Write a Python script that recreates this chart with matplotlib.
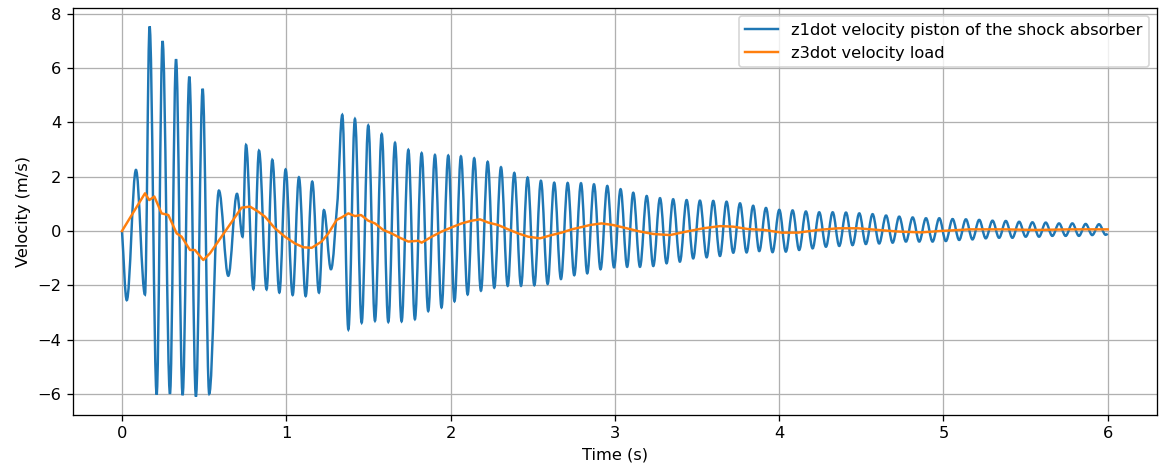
import matplotlib
matplotlib.use("Agg")
import matplotlib.pyplot as plt
from matplotlib.path import Path
from matplotlib.patches import PathPatch
from matplotlib.lines import Line2D
import numpy as np

# z1dot: extrema (time s, velocity m/s)
z1_t = [0.000, 0.029, 0.085, 0.140, 0.168, 0.211, 0.247, 0.292, 0.329, 0.369,
        0.410, 0.450, 0.491, 0.531, 0.590, 0.647, 0.700, 0.734, 0.755, 0.800,
        0.834, 0.880, 0.915, 0.958, 0.996, 1.039, 1.077, 1.118, 1.158, 1.199,
        1.229, 1.272, 1.313,
        1.341, 1.378, 1.418, 1.459, 1.499, 1.540, 1.581, 1.621, 1.662, 1.702,
        1.743, 1.783, 1.824, 1.864, 1.905, 1.945, 1.986, 2.024, 2.063, 2.104,
        2.144, 2.185, 2.226, 2.266, 2.307, 2.348, 2.388, 2.429, 2.469, 2.510,
        2.550, 2.591, 2.631, 2.672, 2.713, 2.753, 2.794, 2.832, 2.873, 2.913,
        2.954, 2.995, 3.035, 3.075, 3.112, 3.153, 3.194, 3.234, 3.275, 3.315,
        3.355, 3.396, 3.437, 3.477, 3.518, 3.559, 3.599, 3.640, 3.680, 3.721,
        3.762, 3.802, 3.842, 3.879, 3.920, 3.960, 4.001, 4.041, 4.082, 4.122,
        4.163, 4.204, 4.244, 4.285, 4.326, 4.366, 4.407, 4.447, 4.488, 4.528,
        4.569, 4.609, 4.651, 4.691, 4.731, 4.772, 4.813, 4.853, 4.894, 4.934,
        4.975, 5.015, 5.056, 5.096, 5.137, 5.177, 5.218, 5.258, 5.299, 5.339,
        5.380, 5.420, 5.461, 5.501, 5.542, 5.582, 5.623, 5.663, 5.704, 5.744,
        5.785, 5.825, 5.866, 5.906, 5.947, 5.988, 6.000]
z1_v = [0.00, -2.55, 2.25, -2.34, 7.54, -6.03, 7.00, -6.00, 6.33, -6.05,
        5.69, -6.10, 5.24, -6.00, 1.49, -1.65, 1.37, -0.21, 3.17, -2.14,
        2.96, -2.15, 2.62, -2.27, 2.27, -2.36, 1.98, -2.40, 1.82, -2.27,
        0.77, -1.41, 1.20,
        4.28, -3.63, 4.13, -3.38, 3.89, -3.31, 3.57, -3.35, 3.25, -3.33,
        2.99, -3.25, 2.87, -2.95, 2.80, -2.82, 2.78, -2.59, 2.75, -2.34,
        2.68, -2.20, 2.55, -2.09, 2.35, -2.02, 2.14, -2.02, 1.97, -2.00,
        1.85, -1.95, 1.78, -1.77, 1.77, -1.63, 1.76, -1.56, 1.72, -1.41,
        1.66, -1.34, 1.54, -1.32, 1.41, -1.32, 1.29, -1.29, 1.21, -1.19,
        1.17, -1.13, 1.14, -1.01, 1.12, -0.97, 1.11, -0.92, 1.08, -0.80,
        1.02, -0.79, 0.93, -0.74, 0.85, -0.78, 0.78, -0.76, 0.76, -0.70,
        0.72, -0.64, 0.69, -0.58, 0.69, -0.55, 0.68, -0.52, 0.65, -0.48,
        0.62, -0.46, 0.57, -0.43, 0.53, -0.39, 0.50, -0.39, 0.47, -0.39,
        0.47, -0.37, 0.44, -0.33, 0.43, -0.31, 0.41, -0.27, 0.38, -0.25,
        0.37, -0.25, 0.34, -0.21, 0.32, -0.21, 0.31, -0.18, 0.28, -0.18,
        0.28, -0.18, 0.26, -0.15, 0.25, -0.14, -0.10]

# z3dot: points along the load velocity curve
z3_t = [0.000, 0.140, 0.166, 0.197, 0.241, 0.282, 0.333, 0.363, 0.414, 0.444,
        0.495, 0.536, 0.728, 0.779, 0.830, 0.870, 0.931, 0.992, 1.053, 1.104,
        1.155, 1.215, 1.256, 1.307, 1.337, 1.378, 1.418, 1.455, 1.499, 1.540,
        1.590, 1.641, 1.692, 1.743, 1.803, 1.824, 1.885, 1.946, 2.017, 2.068,
        2.128, 2.179, 2.230, 2.290, 2.351, 2.412, 2.473, 2.544, 2.615, 2.676,
        2.737, 2.808, 2.848, 2.919, 2.990, 3.072, 3.153, 3.234, 3.335, 3.437,
        3.538, 3.640, 3.721, 3.812, 3.910, 4.015, 4.116, 4.238, 4.360, 4.480,
        4.600, 4.725, 4.867, 4.980, 5.160, 5.364, 5.567, 5.770, 6.000]
z3_v = [0.00, 1.39, 1.14, 1.27, 0.65, 0.59, -0.09, -0.21, -0.70, -0.70,
        -1.07, -0.82, 0.86, 0.90, 0.71, 0.53, 0.10, -0.21, -0.46, -0.60,
        -0.62, -0.39, -0.09, 0.41, 0.50, 0.65, 0.55, 0.59, 0.38, 0.28,
        0.04, -0.09, -0.25, -0.39, -0.36, -0.43, -0.21, -0.02, 0.16, 0.28,
        0.38, 0.43, 0.31, 0.22, 0.06, -0.09, -0.21, -0.27, -0.15, -0.06,
        0.06, 0.16, 0.22, 0.28, 0.22, 0.10, -0.02, -0.11, -0.15, -0.02,
        0.10, 0.18, 0.16, 0.07, 0.04, -0.06, -0.06, 0.04, 0.10, 0.10,
        0.04, -0.02, -0.05, 0.00, 0.06, 0.06, 0.04, 0.06, 0.06]

labels = ["z1dot velocity piston of the shock absorber", "z3dot velocity load"]
colors = ["#1f77b4", "#ff7f0e"]


def smooth_path(t, v, k=0.364):
    """Bezier path through the given points, with flat tangents at extrema."""
    t = np.asarray(t, float)
    v = np.asarray(v, float)
    n = len(t)
    ext = np.zeros(n, bool)
    for i in range(1, n - 1):
        ext[i] = (v[i] - v[i - 1]) * (v[i + 1] - v[i]) < 0
    verts = [(t[0], v[0])]
    codes = [Path.MOVETO]
    for i in range(n - 1):
        dt = t[i + 1] - t[i]
        dv = v[i + 1] - v[i]
        c1 = (t[i] + k * dt, v[i] if ext[i] else v[i] + k * dv)
        c2 = (t[i + 1] - k * dt, v[i + 1] if ext[i + 1] else v[i + 1] - k * dv)
        verts += [c1, c2, (t[i + 1], v[i + 1])]
        codes += [Path.CURVE4] * 3
    return Path(verts, codes)


W, H, DPI = 1167, 475, 117
fig = plt.figure(figsize=(W / DPI, H / DPI), dpi=DPI)
ax = fig.add_axes([0.0623, 0.1263, 0.9291, 0.857])

ax.add_patch(PathPatch(smooth_path(z1_t, z1_v), facecolor="none",
                       edgecolor=colors[0], lw=1.5, zorder=2))
ax.plot(z3_t, z3_v, color=colors[1], lw=1.5, zorder=3)
ax.set_xlim(-0.3, 6.3)
ax.set_ylim(min(z1_v) - 0.05 * (max(z1_v) - min(z1_v)),
            max(z1_v) + 0.05 * (max(z1_v) - min(z1_v)))

ax.set_xlabel("Time (s)")
ax.set_ylabel("Velocity (m/s)")
ax.grid(True)
handles = [Line2D([], [], color=colors[0], lw=1.5),
           Line2D([], [], color=colors[1], lw=1.5)]
ax.legend(handles, labels, loc="upper right")
fig.savefig("out.png", dpi=DPI)
